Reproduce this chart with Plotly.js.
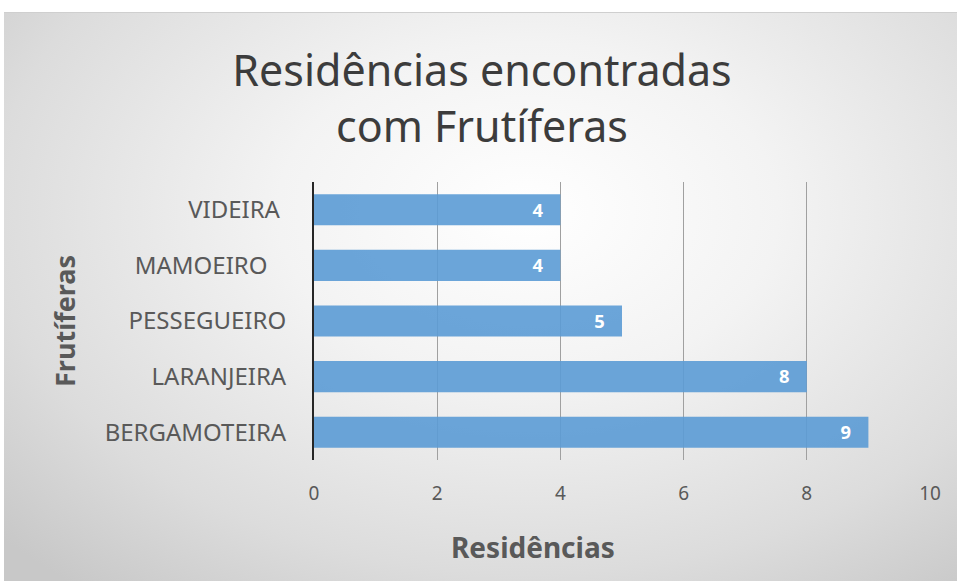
<!DOCTYPE html>
<html>
<head>
<meta charset="utf-8">
<script src="https://cdn.plot.ly/plotly-3.0.1.min.js"></script>
<style>
  html, body { margin:0; padding:0; background:#ffffff; }
  #wrap { position:relative; width:957px; height:581px; overflow:hidden; }
  #bg { position:absolute; left:4px; top:12px; right:0; bottom:0;
        border-top:1px solid #cfcfcf;
        background: radial-gradient(ellipse 75% 85% at 55% 35%, #ffffff 0%, #f3f3f3 35%, #dcdcdc 75%, #c8c8c8 100%); }
  #chart { position:absolute; left:0; top:0; width:957px; height:581px; }
</style>
</head>
<body>
<div id="wrap"><div id="bg"></div><div id="chart"></div></div>
<script>
// Data
const categories = ["BERGAMOTEIRA", "LARANJEIRA", "PESSEGUEIRO", "MAMOEIRO\u00a0\u00a0\u00a0", "VIDEIRA\u00a0"];
const residencias = [9, 8, 5, 4, 4];
const xTicks = [0, 2, 4, 6, 8, 10];
const titleText = "Residências encontradas<br>com Frutíferas";
const xTitle = "Residências";
const yTitle = "Frutíferas";

const FONT = "Noto Sans, Open Sans, sans-serif";

const trace = {
  type: "bar",
  orientation: "h",
  y: categories,
  x: residencias,
  marker: { color: "rgba(91,155,213,0.9)", line: { width: 0 } },
  text: residencias.map(String),
  texttemplate: "%{text}\u00a0\u00a0\u00a0",
  textposition: "inside",
  insidetextanchor: "end",
  textangle: 0,
  insidetextfont: { family: FONT, size: 19, color: "#ffffff", weight: "bold" },
  hoverinfo: "skip",
  cliponaxis: false
};

const layout = {
  width: 957, height: 581,
  paper_bgcolor: "rgba(0,0,0,0)",
  plot_bgcolor: "rgba(0,0,0,0)",
  margin: { l: 314, r: 27, t: 182, b: 121, pad: 0 },
  showlegend: false,
  bargap: 0.44,
  title: {
    text: titleText,
    font: { family: FONT, size: 43, color: "#3c3c3c" },
    x: 482 / 957, xref: "container", xanchor: "center",
    y: 1 - 86 / 581, yref: "container", yanchor: "middle"
  },
  xaxis: {
    range: [0, 10],
    tickvals: xTicks,
    ticktext: xTicks.map(String),
    showgrid: true, gridcolor: "#a0a0a0", gridwidth: 1,
    zeroline: false, showline: false,
    ticks: "", ticklabelstandoff: 20,
    tickfont: { family: FONT, size: 19, color: "#595959" },
    fixedrange: true
  },
  yaxis: {
    type: "category",
    categoryorder: "array",
    categoryarray: categories,
    showgrid: false, zeroline: false,
    showline: true, linecolor: "#262626", linewidth: 2,
    ticks: "", ticklabelstandoff: 21,
    tickfont: { family: FONT, size: 24, color: "#595959" },
    fixedrange: true
  },
  annotations: [
    { text: "<b>" + xTitle + "</b>", xref: "paper", yref: "paper",
      x: (533 - 314) / (930 - 314), y: -(547 - 460) / (460 - 182),
      xanchor: "center", yanchor: "middle", showarrow: false,
      font: { family: FONT, size: 28, color: "#595959" } },
    { text: "<b>" + yTitle + "</b>", xref: "paper", yref: "paper",
      x: -(314 - 64) / (930 - 314), y: 0.5, textangle: -90,
      xanchor: "center", yanchor: "middle", showarrow: false,
      font: { family: FONT, size: 27, color: "#595959" } }
  ]
};

Plotly.newPlot("chart", [trace], layout, { displayModeBar: false, staticPlot: true });
</script>
</body>
</html>
